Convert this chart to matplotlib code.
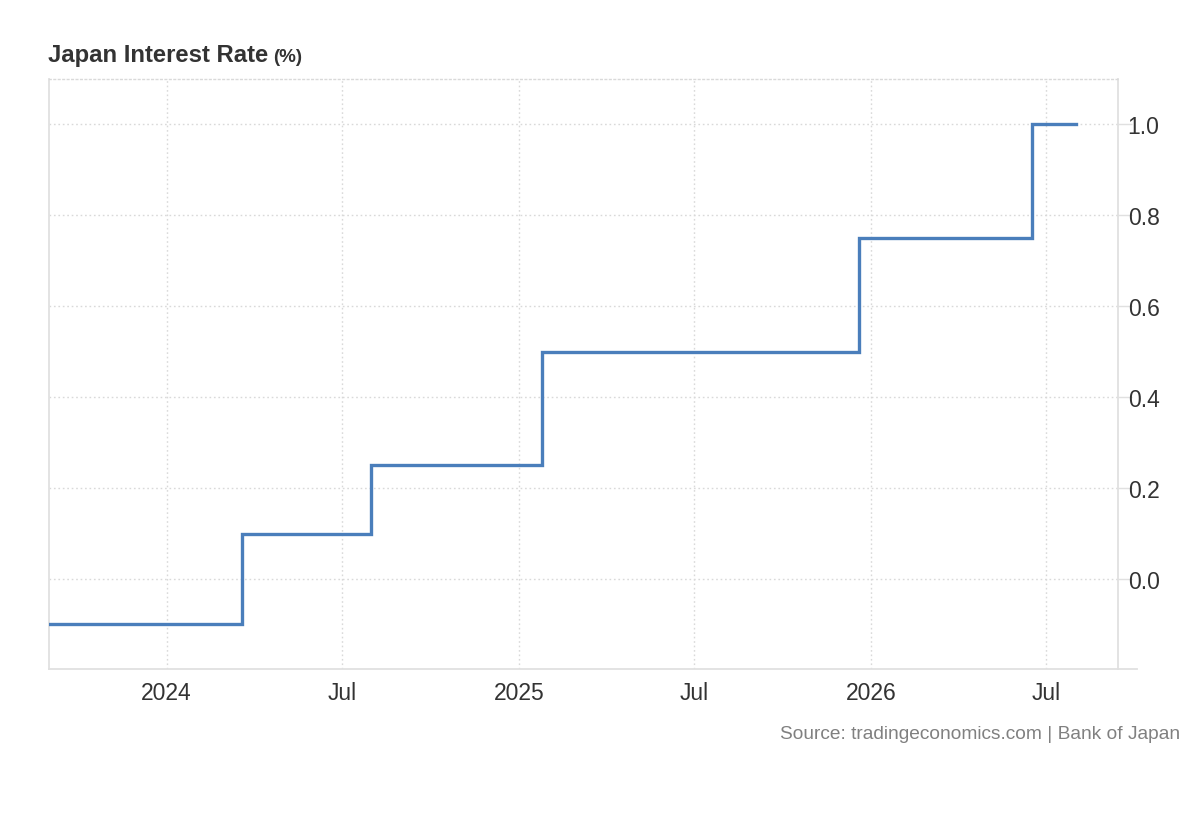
import matplotlib
matplotlib.use("Agg")
import matplotlib.pyplot as plt
from datetime import datetime

plt.rcParams['font.family'] = ['Liberation Sans', 'DejaVu Sans']

# policy rate decisions (date the new rate takes effect)
dates = ["2023-09-01", "2024-03-19", "2024-07-31", "2025-01-24",
         "2025-12-19", "2026-06-17", "2026-08-01"]
rates = [-0.1, 0.1, 0.25, 0.5, 0.75, 1.0, 1.0]
y_ticks = [0.0, 0.2, 0.4, 0.6, 0.8, 1.0]
x_ticks = ["2024-01-01", "2024-07-01", "2025-01-01", "2025-07-01",
           "2026-01-01", "2026-07-01"]
x_labels = ["2024", "Jul", "2025", "Jul", "2026", "Jul"]

dts = [datetime.fromisoformat(d) for d in dates]
xt = [datetime.fromisoformat(d) for d in x_ticks]

grid_c = "#d9d9d9"
spine_c = "#e0e0e0"
text_c = "#333333"

fig = plt.figure(figsize=(12, 8.2), dpi=100)
ax = fig.add_axes([49 / 1200, 1 - 670 / 820, (1118 - 49) / 1200, (670 - 80) / 820])

ax.step(dts, rates, where="post", color="#4a7ebb", lw=2.4, solid_joinstyle="miter", zorder=3)

ax.set_xlim(datetime(2023, 9, 1), datetime(2026, 9, 14))
ax.set_ylim(-0.198, 1.1)

ax.set_xticks(xt)
ax.set_xticklabels(x_labels)
ax.set_yticks(y_ticks)
ax.set_yticklabels([f"{v:.1f}" for v in y_ticks])

ax.yaxis.tick_right()
ax.tick_params(axis="y", length=10, width=1, color=spine_c, pad=-3,
               labelsize=16.5, labelcolor=text_c)
ax.tick_params(axis="x", length=0, pad=9, labelsize=16.5, labelcolor=text_c)

ax.grid(True, color=grid_c, linestyle=(0, (1.2, 2)), linewidth=1)
ax.set_axisbelow(True)

for s in ["left", "right", "bottom"]:
    ax.spines[s].set_color(spine_c)
    ax.spines[s].set_linewidth(1.3)
ax.spines["top"].set_color(grid_c)
ax.spines["top"].set_linestyle((0, (1.2, 2)))
ax.spines["top"].set_linewidth(1)

# bottom axis line extends past the right spine
ax.plot([1.0, 1.018], [0, 0], transform=ax.transAxes, color=spine_c,
        lw=1.3, clip_on=False)

t = fig.text(48 / 1200, 1 - 62 / 820, "Japan Interest Rate", fontsize=17.2,
             fontweight="bold", color=text_c, va="baseline", ha="left")
fig.canvas.draw()
bb = t.get_window_extent()
fig.text(bb.x1 / 1200 + 5 / 1200, 1 - 62 / 820, "(%)", fontsize=13.5,
         fontweight="bold", color=text_c, va="baseline", ha="left")

fig.text(1180 / 1200, 1 - 739 / 820, "Source: tradingeconomics.com | Bank of Japan",
         fontsize=13.8, color="#808080", ha="right", va="baseline")

fig.savefig("out.png", dpi=100, facecolor="white")
